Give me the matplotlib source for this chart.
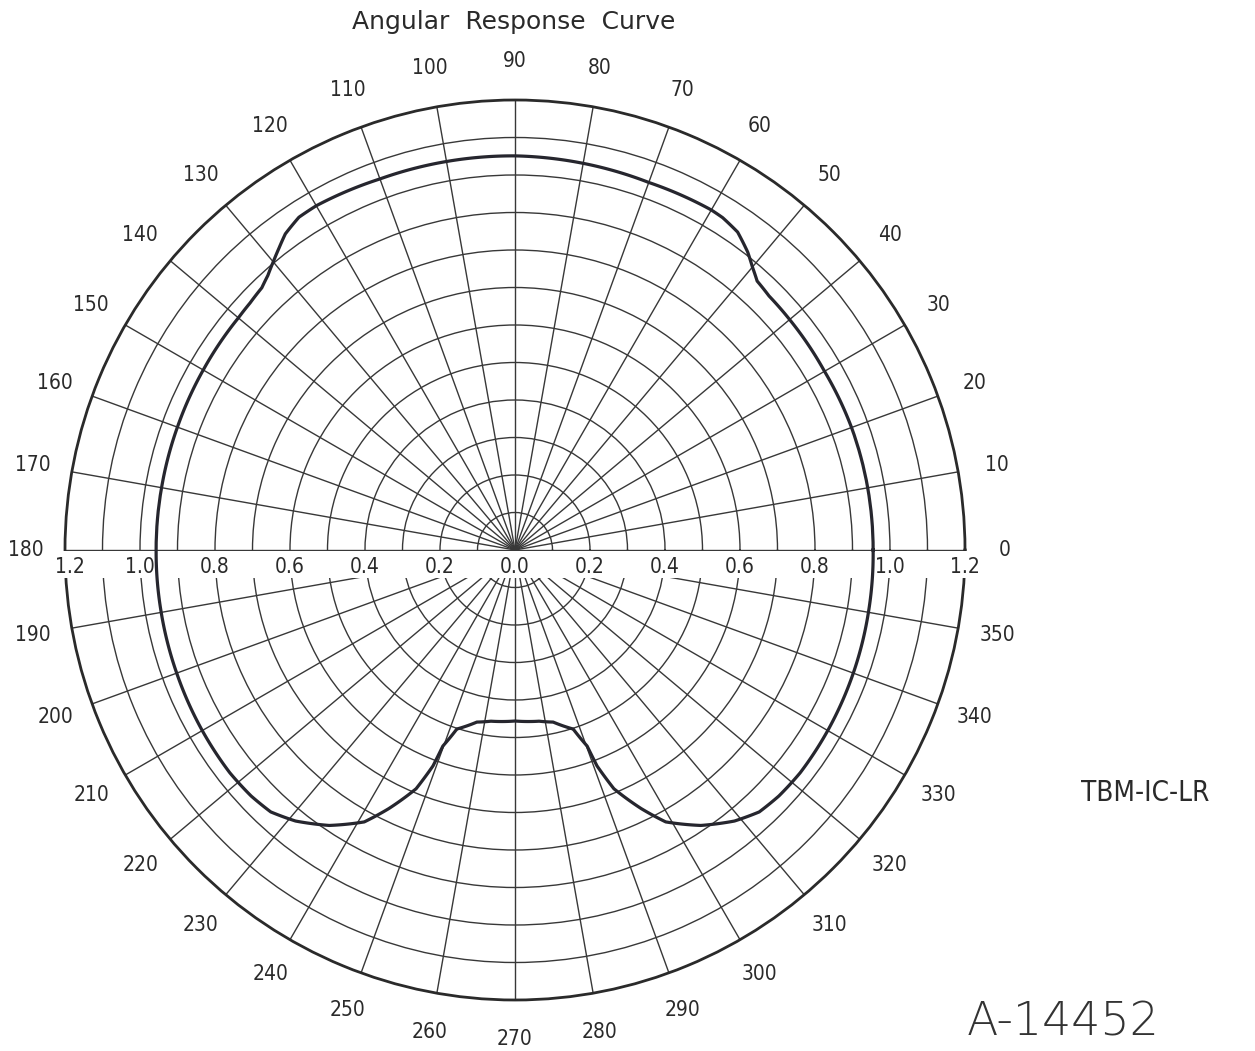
import matplotlib.pyplot as plt
import numpy as np

plt.rcParams['font.family'] = ['DejaVu Sans']

# angle (deg) and response
angles = [0, 10, 20, 30, 40, 45, 48, 50, 52, 55, 58, 60, 70, 80, 90, 100, 110, 120, 123, 126, 128, 130,
          132, 134, 137, 140, 150, 160, 170, 180, 190, 200, 210, 218, 223, 227, 231, 236, 241, 244,
          247.5, 249.2, 249.8, 252, 257.5, 262, 270, 278, 282.5, 288, 290.2, 290.8, 292.5, 296, 299,
          304, 309, 313, 317, 322, 330, 340, 350, 360]
response = [0.955, 0.955, 0.955, 0.953, 0.956, 0.958, 0.965, 0.985, 1.008, 1.035, 1.045, 1.047, 1.043,
            1.047, 1.051, 1.052, 1.053, 1.060, 1.058, 1.042, 1.022, 1.003, 0.985, 0.972, 0.966, 0.963,
            0.960, 0.958, 0.957, 0.957, 0.958, 0.960, 0.963, 0.965, 0.962, 0.955, 0.930, 0.886, 0.829,
            0.767, 0.689, 0.616, 0.557, 0.502, 0.470, 0.461, 0.456, 0.461, 0.470, 0.502, 0.557, 0.616,
            0.689, 0.767, 0.829, 0.886, 0.930, 0.955, 0.962, 0.965, 0.963, 0.960, 0.957, 0.955]

angle_ticks = np.arange(0, 360, 10)
ring_ticks = np.arange(0.1, 1.15, 0.1)
radial_labels = ['0.0', '0.2', '0.4', '0.6', '0.8', '1.0', '1.2']
r_max = 1.2

fig = plt.figure(figsize=(12.55, 10.51), dpi=100)
ax = fig.add_axes([65 / 1255, 51 / 1051, 900 / 1255, 900 / 1051], projection='polar')
ax.set_ylim(0, r_max)
ax.set_xticks(np.radians(angle_ticks))
ax.set_xticklabels([])
ax.set_yticks(ring_ticks)
ax.set_yticklabels([])
ax.grid(True, color='#383838', linewidth=1.0)
ax.spines['polar'].set_linewidth(2.0)
ax.spines['polar'].set_color('#2a2a2a')

# white strip under the 0-180 line where the radial labels sit
ax.add_patch(plt.Rectangle((-0.01, 0.469), 1.02, 0.0295, transform=ax.transAxes,
                           facecolor='white', edgecolor='none', zorder=2.7, clip_on=False))

line, = ax.plot(np.radians(angles), response, color='#26262e', linewidth=2.3, zorder=3)
line.get_path()._interpolation_steps = 40  # follow arcs between points, not chords

for a in angle_ticks:
    ax.text(np.radians(a), 1.305, str(a), ha='center', va='center', fontsize=15,
            fontstretch='condensed', color='#2a2a2a', clip_on=False)

for lab in radial_labels:
    v = float(lab)
    for side in [1, -1]:
        if v == 0 and side == -1:
            continue
        x = 0.5 + side * v / r_max / 2
        if side == -1 and v == r_max:
            x += 0.006
        ax.text(x, 0.4815, lab, transform=ax.transAxes, ha='center',
                va='center', fontsize=15, fontstretch='condensed', color='#2a2a2a', zorder=4)

fig.text(514 / 1255, 1 - 22 / 1051, 'Angular  Response  Curve', ha='center', va='center',
         fontsize=18, color='#2a2a2a')
fig.text(1145 / 1255, 1 - 793 / 1051, 'TBM-IC-LR', ha='center', va='center', fontsize=20,
         fontstretch='condensed', color='#2a2a2a')
fig.text(1063 / 1255, 1 - 1022 / 1051, 'A-14452', ha='center', va='center', fontsize=33,
         fontweight='light', color='#333333')

plt.savefig('out.png', dpi=100)
